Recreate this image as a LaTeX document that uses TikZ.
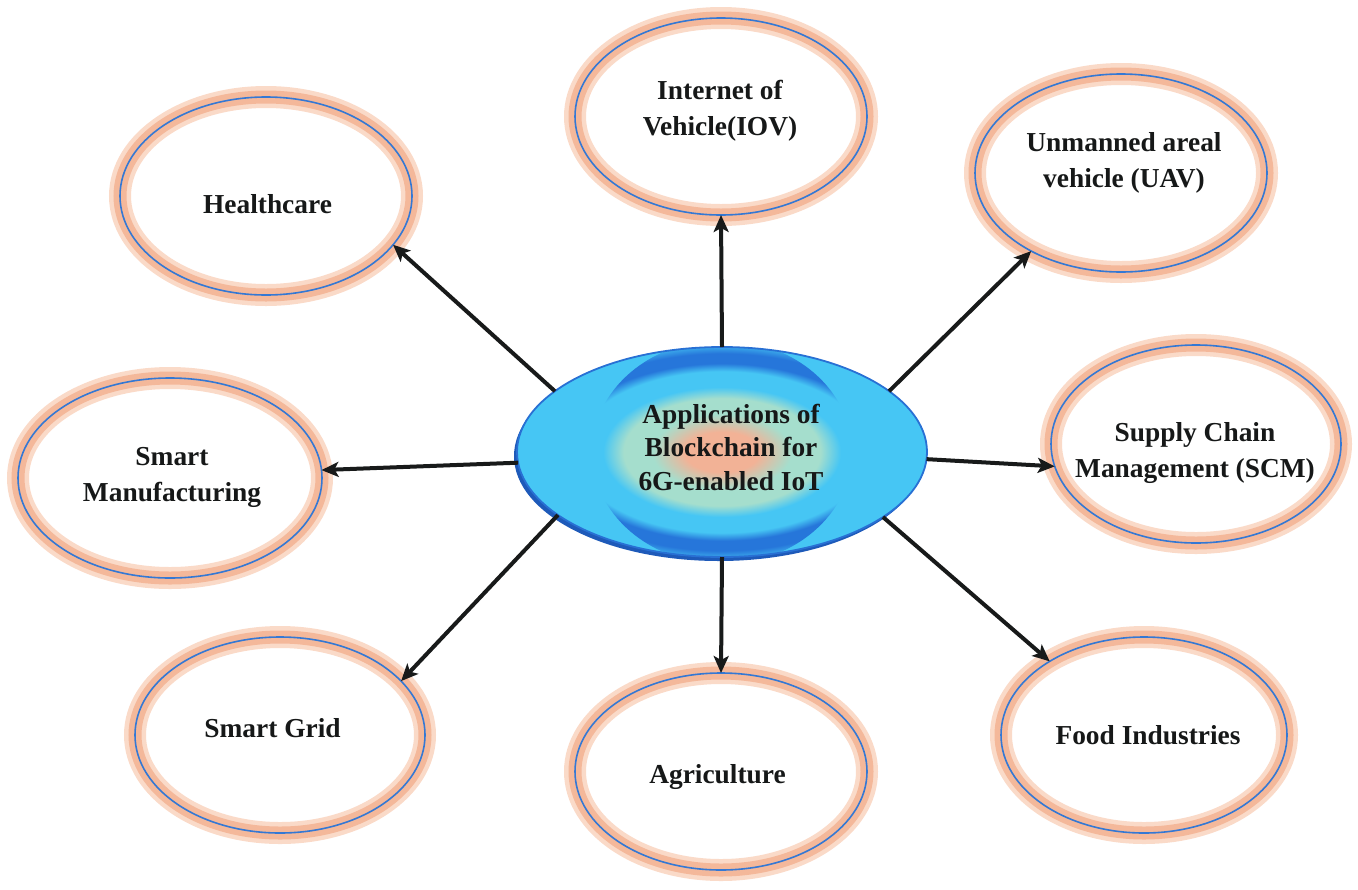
\documentclass[tikz,border=0pt]{standalone}
\usepackage{fontspec}
\setmainfont{Liberation Serif}
\usetikzlibrary{shapes.geometric,arrows.meta}
\definecolor{edgeblue}{RGB}{52,120,212}
\definecolor{glowcore}{RGB}{244,184,154}
\definecolor{glowlight}{RGB}{250,218,200}
\definecolor{txt}{RGB}{22,24,24}
\definecolor{arrowc}{RGB}{24,26,26}
\definecolor{cyanc}{RGB}{70,198,244}
\definecolor{ringc}{RGB}{38,118,218}
\definecolor{mintc}{RGB}{165,222,205}
\definecolor{salmonc}{RGB}{242,178,150}
\definecolor{cborder}{RGB}{40,112,212}
\definecolor{cshadow}{RGB}{30,90,185}
\pgfdeclareradialshading{core}{\pgfpoint{0bp}{0bp}}{color(0bp)=(salmonc); color(4.5bp)=(salmonc); color(8.5bp)=(mintc); color(12bp)=(mintc); color(14.5bp)=(cyanc); color(18bp)=(cyanc); color(19.8bp)=(ringc); color(22bp)=(ringc); color(24.5bp)=(cyanc); color(50bp)=(cyanc)}
\begin{document}
\begin{tikzpicture}[x=0.5pt,y=-0.5pt,
  app/.style={ellipse, draw=edgeblue, line width=0.8pt, outer sep=0pt, inner sep=0pt,
    preaction={draw=glowlight, line width=11pt},
    preaction={draw=glowcore, line width=6.5pt}},
  centre/.style={ellipse, draw=cborder, line width=0.9pt, fill=cyanc, outer sep=0pt, inner sep=0pt,
    preaction={fill=cshadow, transform canvas={xshift=-1.5pt,yshift=-2pt}},
    path picture={\shade[shading=core] (path picture bounding box.center) ellipse [x radius=65pt, y radius=56pt];}},
  lbl/.style={font=\fontsize{13.7}{18}\selectfont\bfseries, align=center, text=txt, inner sep=0pt},
  arr/.style={draw=arrowc, line width=2pt, -{Stealth[length=8.5pt,width=7.5pt,inset=2pt]}},
]
\useasboundingbox (0,0) rectangle (1358,889);
% outer application ellipses
\node[app, minimum width=146pt, minimum height=99pt] (hc)   at (266,196)   {};
\node[app, minimum width=146pt, minimum height=98.5pt] (iov)  at (721,116.5) {};
\node[app, minimum width=146pt, minimum height=99pt] (uav)  at (1121,173)  {};
\node[app, minimum width=145pt, minimum height=99pt] (scm)  at (1196,444)  {};
\node[app, minimum width=152pt, minimum height=100pt] (sm)   at (170,478)   {};
\node[app, minimum width=145pt, minimum height=98pt] (sg)   at (280,735)   {};
\node[app, minimum width=146pt, minimum height=98.5pt] (agri) at (721,771.5) {};
\node[app, minimum width=143pt, minimum height=98pt] (food) at (1144,735)  {};
% central ellipse
\node[centre, minimum width=205pt, minimum height=105pt] (c) at (722,452) {};
% labels
\node[lbl, anchor=base] (hc-t)   at (267.5,213) {Healthcare};
\node[lbl] (iov-t)  at (720,110.7) {Internet of\\Vehicle(IOV)};
\node[lbl] (uav-t)  at (1124,163.4) {Unmanned areal\\vehicle (UAV)};
\node[lbl] (scm-t)  at (1195,453) {Supply Chain\\Management (SCM)};
\node[lbl] (sm-t)   at (172,477) {Smart\\Manufacturing};
\node[lbl, anchor=base] (sg-t)   at (272.5,737) {Smart Grid};
\node[lbl, anchor=base] (agri-t) at (717.5,783) {Agriculture};
\node[lbl, anchor=base] (food-t) at (1148,744) {Food Industries};
\node[lbl, font=\fontsize{13.7}{16.75}\selectfont\bfseries] (c-t) at (731,447) {Applications of\\Blockchain for\\6G-enabled IoT};
% connectors
\draw[arr] (c.160.8) -- (hc.-21.3);
\draw[arr] (c.90) -- (iov.-90);
\draw[arr] (c.20.3) -- (uav.221.6);
\draw[arr] (c.-2.8) -- (scm.189);
\draw[arr] (c.183.8) -- (sm.3.9);
\draw[arr] (c.201) -- (sg.24.3);
\draw[arr] (c.-90) -- (agri.90);
\draw[arr] (c.-22.6) -- (food.142);
\end{tikzpicture}
\end{document}
